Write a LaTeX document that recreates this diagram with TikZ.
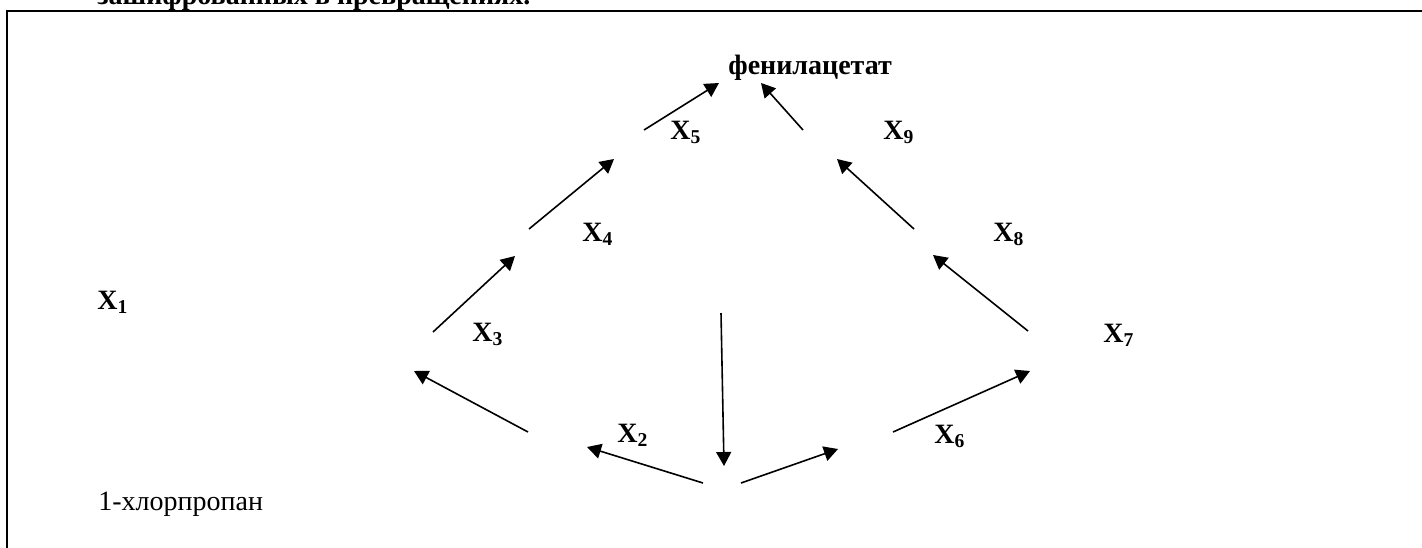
\documentclass[tikz,border=0pt]{standalone}
\usepackage{fontspec}
\setmainfont{Liberation Serif}
\usetikzlibrary{arrows.meta}
\tikzset{
  xlab/.style={anchor=base west,inner sep=0pt,font=\fontsize{14pt}{16pt}\selectfont\bfseries},
  plaintext/.style={anchor=base west,inner sep=0pt,font=\fontsize{14pt}{16pt}\selectfont},
  arrow/.style={-{Triangle[length=7pt,width=7.5pt]},line width=0.8pt,draw=black},
  frameline/.style={line width=1pt,draw=black}
}

\begin{document}
\begin{tikzpicture}[x=0.5pt,y=-0.5pt]
  \useasboundingbox (0,0) rectangle (1422,547);

  % frame and cut heading
  \coordinate (fbl) at (7,560);
  \coordinate (ftl) at (7,11);
  \coordinate (ftr) at (1435,11);
  \draw[frameline] (fbl) -- (ftl) -- (ftr);
  \node[xlab] (head) at (97,4) {зашифрованных в превращениях.};

  % texts
  \node[xlab] (prod) at (728,74) {фенилацетат};
  \node[plaintext] (start) at (98,510) {1-хлорпропан};
  \node[xlab] (x1) at (97,309) {X\textsubscript{1}};
  \node[xlab] (x2) at (617,442) {X\textsubscript{2}};
  \node[xlab] (x3) at (472,341) {X\textsubscript{3}};
  \node[xlab] (x4) at (582,241) {X\textsubscript{4}};
  \node[xlab] (x5) at (670,139) {X\textsubscript{5}};
  \node[xlab] (x6) at (934,443) {X\textsubscript{6}};
  \node[xlab] (x7) at (1103,342) {X\textsubscript{7}};
  \node[xlab] (x8) at (993,241) {X\textsubscript{8}};
  \node[xlab] (x9) at (883,139) {X\textsubscript{9}};

  % arrow ends
  \coordinate (top) at (721,313);
  \coordinate (mid) at (724,466);
  \coordinate (l1s) at (703,483);
  \coordinate (l1e) at (587,447);
  \coordinate (l2s) at (528,432);
  \coordinate (l2e) at (414,371);
  \coordinate (l3s) at (433,332);
  \coordinate (l3e) at (515,256);
  \coordinate (l4s) at (529,229);
  \coordinate (l4e) at (614,159);
  \coordinate (l5s) at (644,130);
  \coordinate (l5e) at (719,83);
  \coordinate (r1s) at (741,483);
  \coordinate (r1e) at (838,449);
  \coordinate (r2s) at (893,432);
  \coordinate (r2e) at (1030,371);
  \coordinate (r3s) at (1028,331);
  \coordinate (r3e) at (933,255);
  \coordinate (r4s) at (914,229);
  \coordinate (r4e) at (837,159);
  \coordinate (r5s) at (803,130);
  \coordinate (r5e) at (761,83);

  \draw[arrow] (top) -- (mid);
  \draw[arrow] (l1s) -- (l1e);
  \draw[arrow] (l2s) -- (l2e);
  \draw[arrow] (l3s) -- (l3e);
  \draw[arrow] (l4s) -- (l4e);
  \draw[arrow] (l5s) -- (l5e);
  \draw[arrow] (r1s) -- (r1e);
  \draw[arrow] (r2s) -- (r2e);
  \draw[arrow] (r3s) -- (r3e);
  \draw[arrow] (r4s) -- (r4e);
  \draw[arrow] (r5s) -- (r5e);
\end{tikzpicture}
\end{document}
